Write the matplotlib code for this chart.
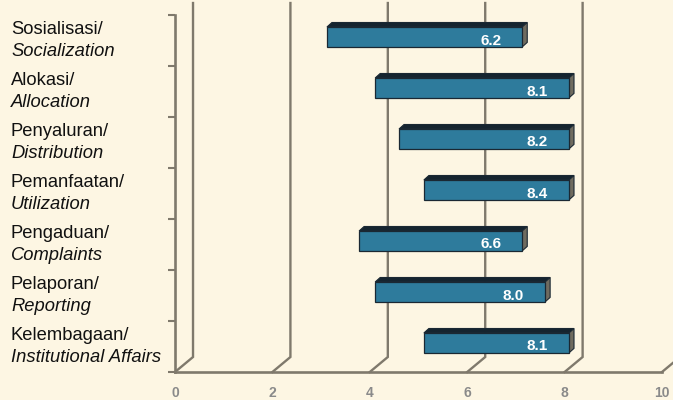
import matplotlib
matplotlib.use("Agg")
import matplotlib.pyplot as plt
from matplotlib.patches import Polygon
from matplotlib.transforms import blended_transform_factory

# Aspect labels (Indonesian / English)
categories_id = ["Sosialisasi/", "Alokasi/", "Penyaluran/", "Pemanfaatan/",
                 "Pengaduan/", "Pelaporan/", "Kelembagaan/"]
categories_en = ["Socialization", "Allocation", "Distribution", "Utilization",
                 "Complaints", "Reporting", "Institutional Affairs"]
# Floating bar extents on the value axis
bar_start = [3.12, 4.11, 4.60, 5.11, 3.78, 4.11, 5.11]
bar_end = [7.13, 8.09, 8.09, 8.09, 7.13, 7.60, 8.09]
# Scores printed on the bars
scores = [6.2, 8.1, 8.2, 8.4, 6.6, 8.0, 8.1]
x_ticks = [0, 2, 4, 6, 8, 10]

BG = "#FDF6E3"
GRID = "#7f796c"
FRONT = "#2E7B9C"
TOP = "#15242F"
SIDE = "#6F6B5F"
EDGE = "#1A2833"
FONT = ["Liberation Sans", "DejaVu Sans"]

W, H = 673, 400
fig = plt.figure(figsize=(W / 100, H / 100), dpi=100, facecolor=BG)
ax = fig.add_axes([175 / W, 28 / H, (662 - 175) / W, 357 / H])
ax.set_facecolor("none")

n = len(categories_id)
ax.set_xlim(0, 10)
ax.set_ylim(n - 0.5, -0.5)

# 3D depth offsets in data units
wall_dx, wall_dy = 0.37, 0.294      # back wall
bar_dx, bar_dy = 0.103, 0.088       # bar thickness
bar_h, bar_shift = 0.39, -0.07

# Floor diagonals and back-wall grid lines
wall_top = -0.5 - 0.235
for v in x_ticks:
    ax.plot([v, v + wall_dx, v + wall_dx],
            [n - 0.5, n - 0.5 - wall_dy, wall_top],
            color=GRID, lw=1.7, clip_on=False, zorder=1,
            solid_joinstyle="miter")

# Front axes
for side in ["top", "right"]:
    ax.spines[side].set_visible(False)
for side in ["left", "bottom"]:
    ax.spines[side].set_color(GRID)
    ax.spines[side].set_linewidth(1.9)
    ax.spines[side].set_zorder(2)

ax.set_yticks([i - 0.5 for i in range(n + 1)])
ax.set_yticklabels([])
ax.tick_params(axis="y", length=5, width=1.5, color=GRID, direction="out")
ax.set_xticks(x_ticks)
ax.set_xticklabels([str(t) for t in x_ticks], fontweight="bold", family=FONT)
ax.tick_params(axis="x", length=0, pad=10, labelsize=10, labelcolor="#8a8a8a")

# Bars with a shallow 3D box look
for i in range(n):
    x0, x1 = bar_start[i], bar_end[i]
    yc = i + bar_shift
    yt, yb = yc - bar_h / 2, yc + bar_h / 2
    top = Polygon([(x0, yt), (x1, yt), (x1 + bar_dx, yt - bar_dy),
                   (x0 + bar_dx, yt - bar_dy)],
                  closed=True, facecolor=TOP, edgecolor=EDGE, lw=0.8,
                  zorder=4, clip_on=False)
    side = Polygon([(x1, yt), (x1 + bar_dx, yt - bar_dy),
                    (x1 + bar_dx, yb - bar_dy), (x1, yb)],
                   closed=True, facecolor=SIDE, edgecolor=EDGE, lw=0.8,
                   zorder=4, clip_on=False)
    front = Polygon([(x0, yt), (x1, yt), (x1, yb), (x0, yb)],
                    closed=True, facecolor=FRONT, edgecolor=EDGE, lw=0.9,
                    zorder=5, clip_on=False)
    for p in (top, side, front):
        ax.add_patch(p)
    ax.text(x1 - 0.65, i, f"{scores[i]:.1f}", color="white",
            fontsize=11, fontweight="bold", ha="center", va="center",
            family=FONT, zorder=6)

# Two-line category labels at the left
lab_tr = blended_transform_factory(fig.transFigure, ax.transData)
for i in range(n):
    ax.text(11 / W, i - 0.206, categories_id[i], transform=lab_tr,
            ha="left", va="center", fontsize=13.2, color="#111111",
            family=FONT)
    ax.text(11 / W, i + 0.206, categories_en[i], transform=lab_tr,
            ha="left", va="center", fontsize=13.2, color="#111111",
            style="italic", family=FONT)

fig.savefig("out.png", dpi=100, facecolor=BG)
